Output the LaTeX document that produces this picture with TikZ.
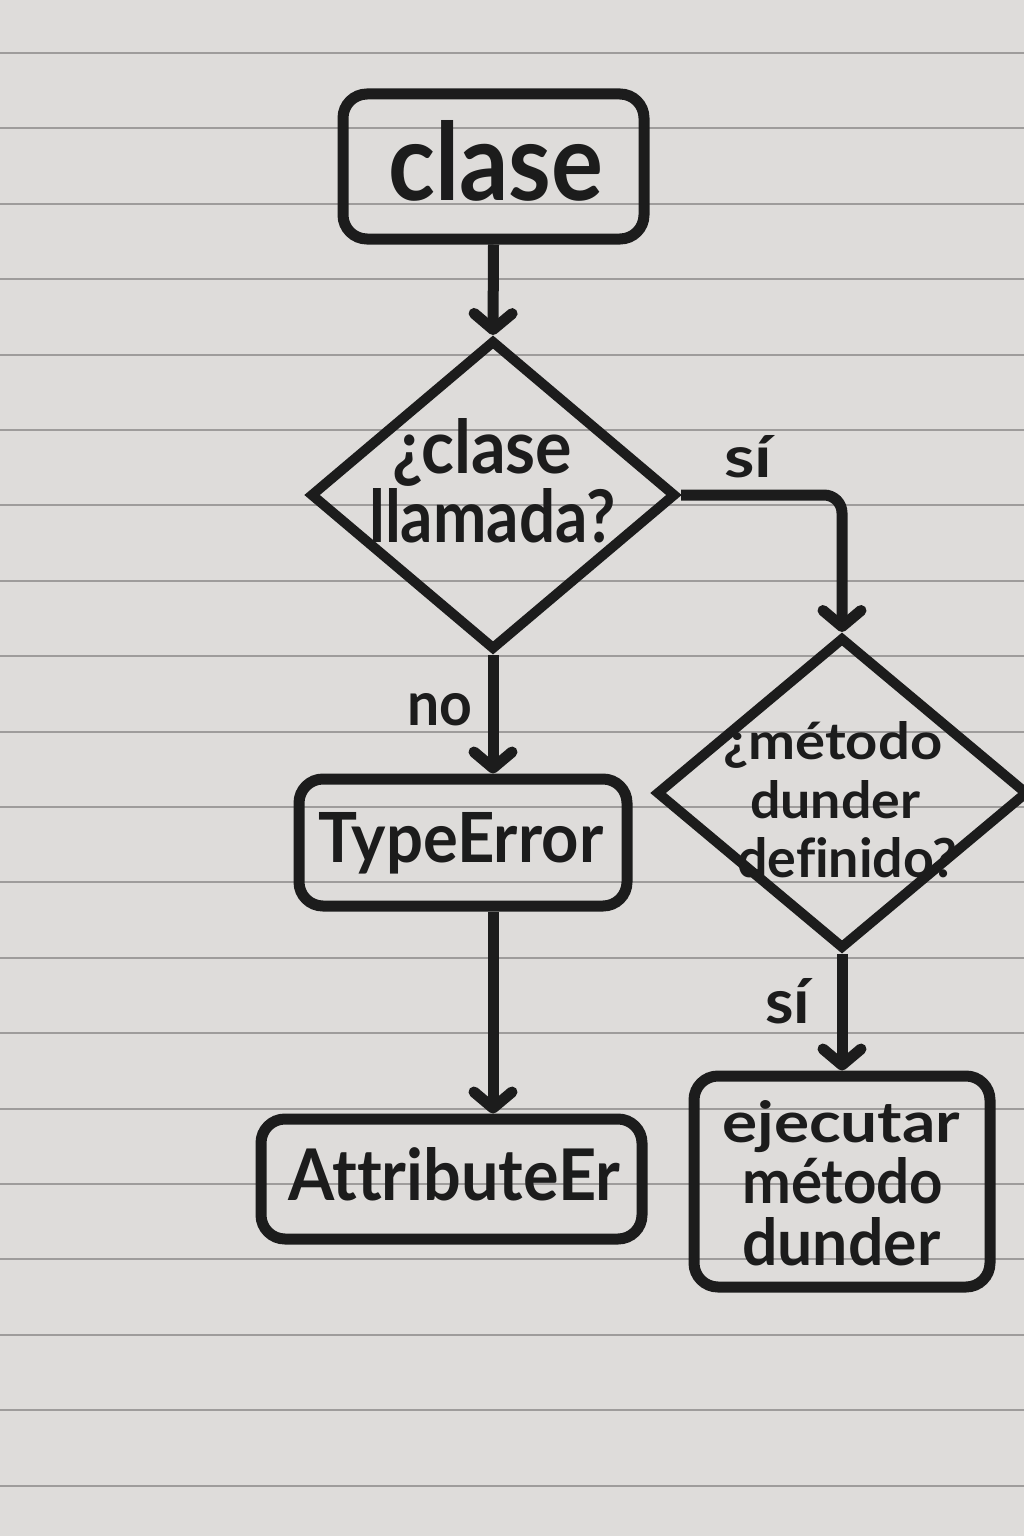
\documentclass[tikz,border=0pt]{standalone}
\usepackage{fontspec}
\setmainfont{Lato}[Ligatures={NoCommon}]
\usepackage{graphicx}
\usetikzlibrary{shapes.geometric,arrows.meta}
\definecolor{paper}{HTML}{DEDCDA}
\definecolor{rulec}{HTML}{9E9C9B}
\definecolor{ink}{HTML}{1C1C1C}
\newcommand{\fitt}[3]{\resizebox{#1pt}{#2pt}{\bfseries #3}}
\begin{document}
\begin{tikzpicture}[x=1pt,y=-1pt,
  box/.style={draw=ink, line width=11pt, rounded corners=24pt, inner sep=0pt},
  dia/.style={draw=ink, line width=10pt, diamond, inner sep=0pt, line join=miter},
  arr/.style={draw=ink, line width=11pt, -{Straight Barb[round,length=16pt,width=38pt]}},
  txt/.style={inner sep=0pt, anchor=base west, text=ink}]
\useasboundingbox (0,0) rectangle (1024,1536);
\fill[paper] (0,0) rectangle (1024,1536);
\foreach \k in {0,...,19}
  \draw[rulec, line width=2pt] (0,53+75.4*\k) -- (1024,53+75.4*\k);
% shapes
\node[box, minimum width=301pt, minimum height=145pt] (clase) at (493.5,166.5) {};
\node[dia, minimum width=366pt, minimum height=310pt] (d1) at (493,495) {};
\node[dia, minimum width=372pt, minimum height=312pt] (d2) at (842,793) {};
\node[box, minimum width=328pt, minimum height=127pt] (te) at (463,842.5) {};
\node[box, minimum width=381pt, minimum height=120pt] (ae) at (451.5,1179) {};
\node[box, minimum width=296pt, minimum height=211pt] (ej) at (842,1181.5) {};
% texts
\node[txt] (t1) at (388,200) {\fitt{215}{80}{clase}};
\node[txt] (t2a) at (392,473) {\fitt{180}{55}{¿clase}};
\node[txt] (t2b) at (369,542) {\fitt{246}{54}{llamada?}};
\node[txt] (si1) at (724,477) {\fitt{48}{42}{sí}};
\node[txt] (no) at (407,725) {\fitt{65}{32}{no}};
\node[txt] (t3a) at (723,759) {\fitt{219}{38}{¿método}};
\node[txt] (t3b) at (750,818) {\fitt{170}{38}{dunder}};
\node[txt] (t3c) at (737,877) {\fitt{220}{40}{definido?}};
\node[txt] (t4) at (318,862) {\fitt{285}{50}{TypeError}};
\node[txt] (t5) at (288,1200) {\fitt{332}{53}{AttributeEr}};
\node[txt] (si2) at (765,1023) {\fitt{45}{45}{sí}};
\node[txt] (t6a) at (722,1142) {\fitt{238}{42}{ejecutar}};
\node[txt] (t6b) at (742,1203) {\fitt{201}{46}{método}};
\node[txt] (t6c) at (742,1265) {\fitt{198}{48}{dunder}};
% connectors
\draw[arr] (clase.south) -- (d1.north);
\draw[arr, rounded corners=18pt] (d1.east) -| (d2.north);
\draw[arr] (d1.south) -- (d1.south |- te.north);
\draw[arr] (d1.south |- te.south) -- (d1.south |- ae.north);
\draw[arr] (d2.south) -- (ej.north);
\end{tikzpicture}
\end{document}
